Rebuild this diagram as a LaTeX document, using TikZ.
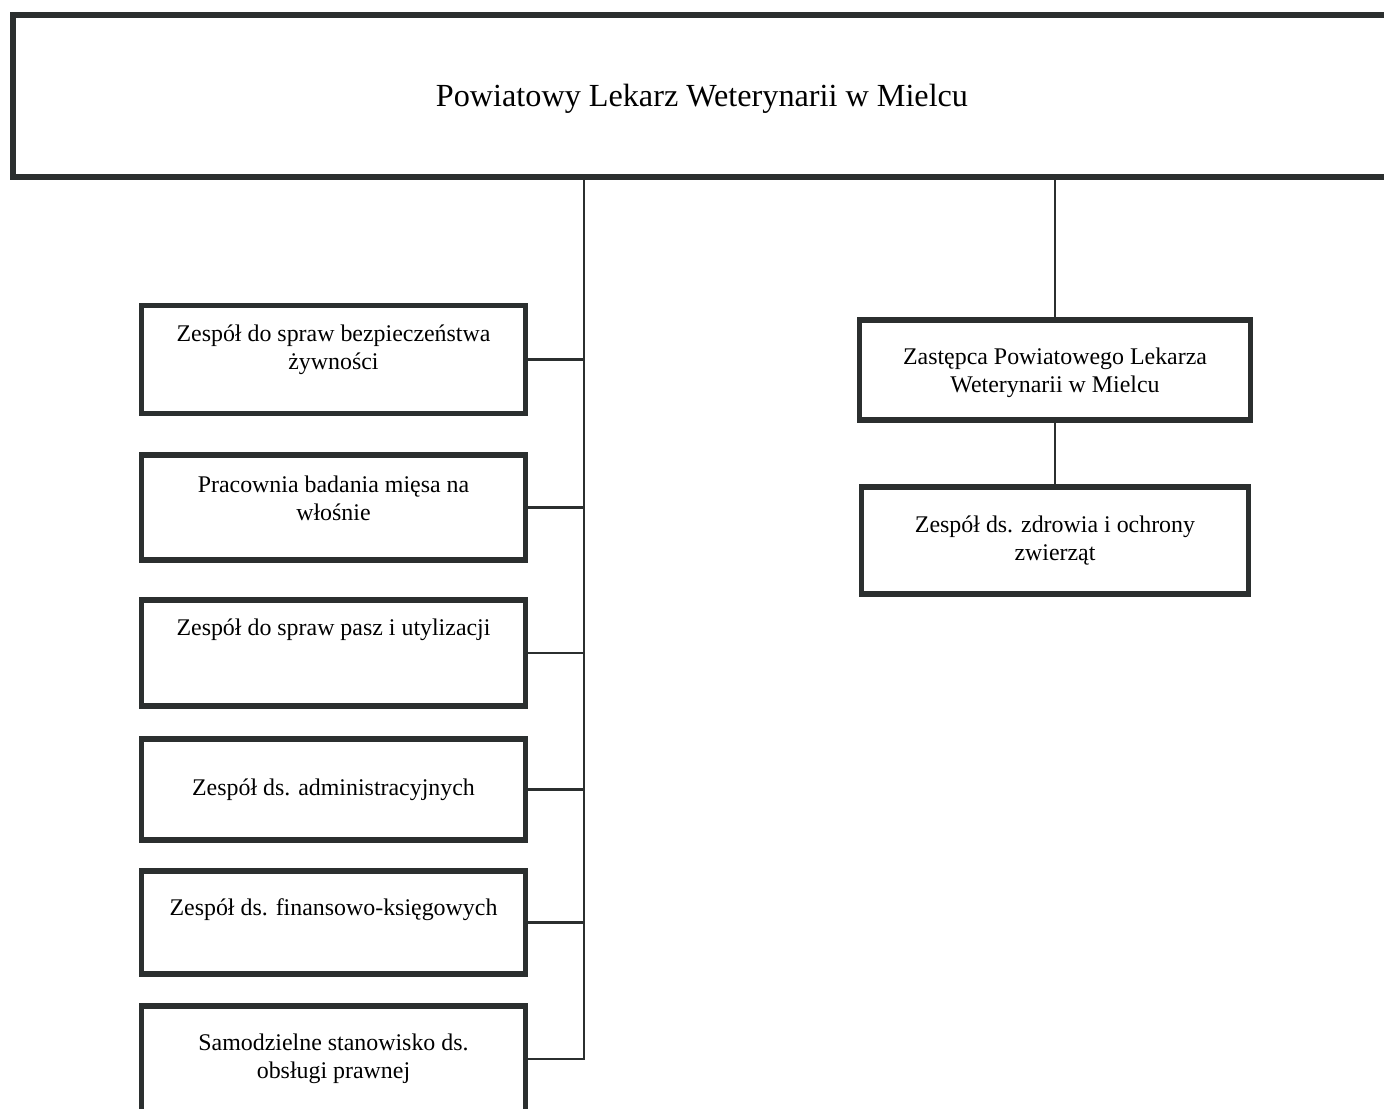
\documentclass[tikz,border=0pt]{standalone}
\usepackage{fontspec}
\setmainfont{Liberation Serif}
\usetikzlibrary{positioning}
\definecolor{ink}{HTML}{2B2F2F}

\begin{document}
\begin{tikzpicture}[
        x=0.5pt, y=-0.5pt,
        unit-box/.style={
            draw=ink,
            line width=2.6pt,
            fill=white,
            minimum width=192pt,
            inner sep=0pt,
        },
        unit-text/.style={
            align=center,
            inner sep=0pt,
            font=\fontsize{11.95}{14}\selectfont,
        },
        link/.style={
            draw=ink,
            line width=1.4pt,
        },
    ]
    \useasboundingbox (0, 0) rectangle (1384, 1108);

    \node[unit-box, minimum width=691pt, minimum height=81pt] (chief) at (704, 96) {};
    \node[unit-text, font=\fontsize{16.1}{18}\selectfont] (chief-text) at (702, 99)
        {Powiatowy Lekarz Weterynarii w Mielcu};

    % left column
    \node[unit-box, minimum height=54pt] (team-1) at (333.5, 359.5) {};
    \node[unit-box, minimum height=52.5pt] (team-2) at (333.5, 507.5) {};
    \node[unit-box, minimum height=53pt] (team-3) at (333.5, 653) {};
    \node[unit-box, minimum height=50.5pt] (team-4) at (333.5, 789.5) {};
    \node[unit-box, minimum height=51.5pt] (team-5) at (333.5, 922.5) {};
    \node[unit-box, minimum height=53pt] (team-6) at (333.5, 1059) {};

    \node[unit-text] (team-1-text) at (333.5, 350) {Zespół do spraw bezpieczeństwa\\żywności};
    \node[unit-text] (team-2-text) at (333.5, 498) {Pracownia badania mięsa na\\włośnie};
    \node[unit-text] (team-3-text) at (333.5, 630) {Zespół do spraw pasz i utylizacji};
    \node[unit-text] (team-4-text) at (333.5, 790) {Zespół ds. administracyjnych};
    \node[unit-text] (team-5-text) at (333.5, 910) {Zespół ds. finansowo-księgowych};
    \node[unit-text] (team-6-text) at (333.5, 1059) {Samodzielne stanowisko ds.\\obsługi prawnej};

    % right column
    \node[unit-box, minimum width=195.5pt, minimum height=50pt] (deputy) at (1055, 370) {};
    \node[unit-box, minimum width=193.5pt, minimum height=53.5pt] (health) at (1055, 540.5) {};

    \node[unit-text] (deputy-text) at (1055, 373) {Zastępca Powiatowego Lekarza\\Weterynarii w Mielcu};
    \node[unit-text] (health-text) at (1055, 541) {Zespół ds. zdrowia i ochrony\\zwierząt};

    \coordinate (trunk) at (584, 0);

    \draw[link] (chief.south -| trunk) |- (team-6.east);
    \foreach \i in {1,...,5}
    {
        \draw[link] (team-\i.east) -- (team-\i.east -| trunk);
    }

    \draw[link] (chief.south -| deputy.north) -- (deputy.north);
    \draw[link] (deputy) -- (health);
\end{tikzpicture}
\end{document}
